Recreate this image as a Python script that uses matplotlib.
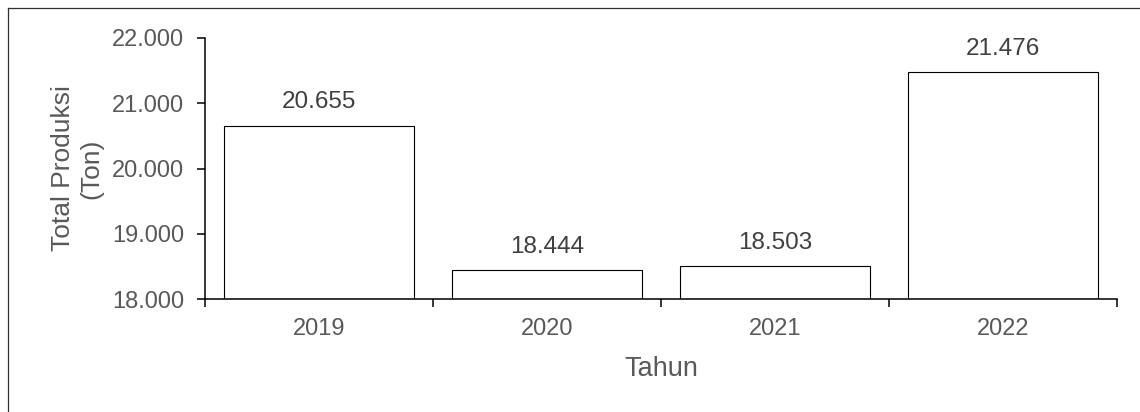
import matplotlib
matplotlib.use("Agg")
import matplotlib.pyplot as plt
from matplotlib.ticker import FuncFormatter, FixedLocator, NullFormatter
from matplotlib.lines import Line2D

plt.rcParams['font.family'] = ['Liberation Sans', 'DejaVu Sans']

years = ["2019", "2020", "2021", "2022"]
production = [20655, 18444, 18503, 21476]
yticks = [18000, 19000, 20000, 21000, 22000]

def fmt(v):
    return f"{int(round(v)):,}".replace(",", ".")

fig = plt.figure(figsize=(11.4, 4.12), dpi=100)
ax = fig.add_axes([205/1140, 1 - 299/412, 912/1140, 261/412])

x = list(range(len(years)))
bars = ax.bar(x, [p - 18000 for p in production], bottom=18000, width=0.833,
              color='white', edgecolor='black', linewidth=0.8, zorder=2)

for xi, p in zip(x, production):
    ax.annotate(fmt(p), (xi, p), xytext=(0, 9), textcoords='offset points',
                ha='center', va='bottom', fontsize=17.5, color='#404040')

ax.set_xlim(-0.5, len(years) - 0.5)
ax.set_ylim(18000, 22000)
ax.set_yticks(yticks)
ax.yaxis.set_major_formatter(FuncFormatter(lambda v, pos: fmt(v)))

ax.set_xticks(x)
ax.set_xticklabels(years)
ax.tick_params(axis='x', which='major', length=0, pad=14, labelsize=17, labelcolor='#595959')
ax.xaxis.set_minor_locator(FixedLocator([i - 0.5 for i in range(len(years) + 1)]))
ax.xaxis.set_minor_formatter(NullFormatter())
ax.tick_params(axis='x', which='minor', length=6, width=1.1, color='black', direction='out')
ax.tick_params(axis='y', length=6, width=1.1, color='black', labelsize=17,
               labelcolor='#595959', pad=9)

for s in ['top', 'right']:
    ax.spines[s].set_visible(False)
for s in ['left', 'bottom']:
    ax.spines[s].set_linewidth(1.1)
    ax.spines[s].set_color('black')

ax.set_xlabel("Tahun", fontsize=19.5, color='#595959', labelpad=11)
ax.set_ylabel("Total Produksi\n(Ton)", fontsize=19, color='#595959', labelpad=6,
              linespacing=1.25)

# outer chart border (top and left edges visible)
fig.add_artist(Line2D([8/1140, 1.0], [1 - 8/412, 1 - 8/412], transform=fig.transFigure,
                      color='#303030', linewidth=0.9))
fig.add_artist(Line2D([8/1140, 8/1140], [0.0, 1 - 8/412], transform=fig.transFigure,
                      color='#303030', linewidth=0.9))

fig.savefig("out.png", dpi=100, facecolor='white')
